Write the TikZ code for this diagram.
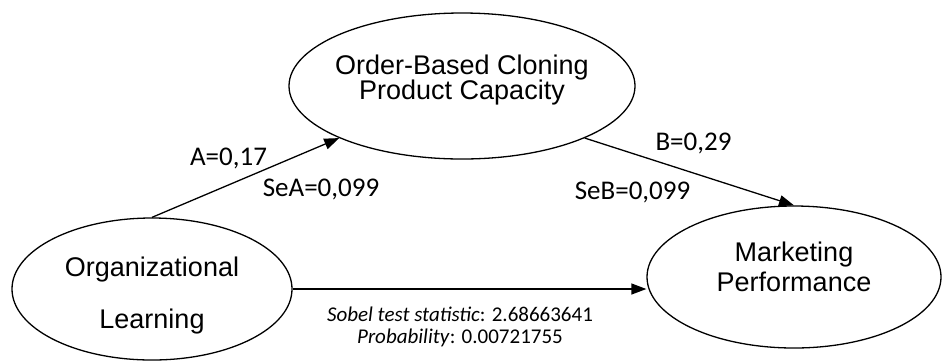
\documentclass[tikz,border=0pt]{standalone}
\usepackage{fontspec}
\setmainfont{Liberation Sans}
\newfontfamily\carlito{Carlito}
\usetikzlibrary{shapes.geometric,arrows.meta}
\setlength{\lineskiplimit}{-20pt}

\begin{document}
\begin{tikzpicture}[x=0.5pt,y=-0.5pt,
    latente/.style={ellipse, draw, line width=0.65pt, inner sep=0pt, align=center,
        font=\fontsize{13.5pt}{15pt}\selectfont},
    flecha/.style={line width=0.65pt, -{Triangle[length=7.5pt,width=5.5pt]}},
    coef/.style={font=\carlito\fontsize{13.5pt}{15pt}\selectfont, inner sep=0pt, anchor=base}]
    \useasboundingbox (0,0) rectangle (942,361);
    % Variables latentes
    \node[latente, minimum width=173pt, minimum height=73pt, inner xsep=-6pt, text depth=8.6pt]
        (ocp) at (462,86) {Order-Based Cloning\\[-2.5pt]Product Capacity};
    \node[latente, minimum width=140pt, minimum height=71pt, text height=42pt]
        (org) at (152,289) {Organizational\\[11pt]Learning};
    \node[latente, minimum width=147pt, minimum height=71pt, text depth=10.5pt]
        (mp) at (794,277) {Marketing\\Performance};
    % Flechas
    \draw[flecha] (org.north) -- (ocp.south west);
    \draw[flecha] (ocp.south east) -- (mp.north);
    \draw[flecha] (org.east) -- (org.east -| mp.west);
    % Coeficientes
    \node[coef] (a) at (228.5,165) {A=0,17};
    \node[coef] (sea) at (321,196) {SeA=0,099};
    \node[coef] (b) at (693.5,150) {B=0,29};
    \node[coef] (seb) at (632.5,199) {SeB=0,099};
    % Prueba de Sobel
    \node[font=\carlito\fontsize{10.5pt}{11pt}\selectfont, align=center, inner sep=0pt]
        (sobel) at (460,327) {\textit{Sobel test statistic}: 2.68663641\\\textit{Probability}: 0.00721755};
\end{tikzpicture}
\end{document}
